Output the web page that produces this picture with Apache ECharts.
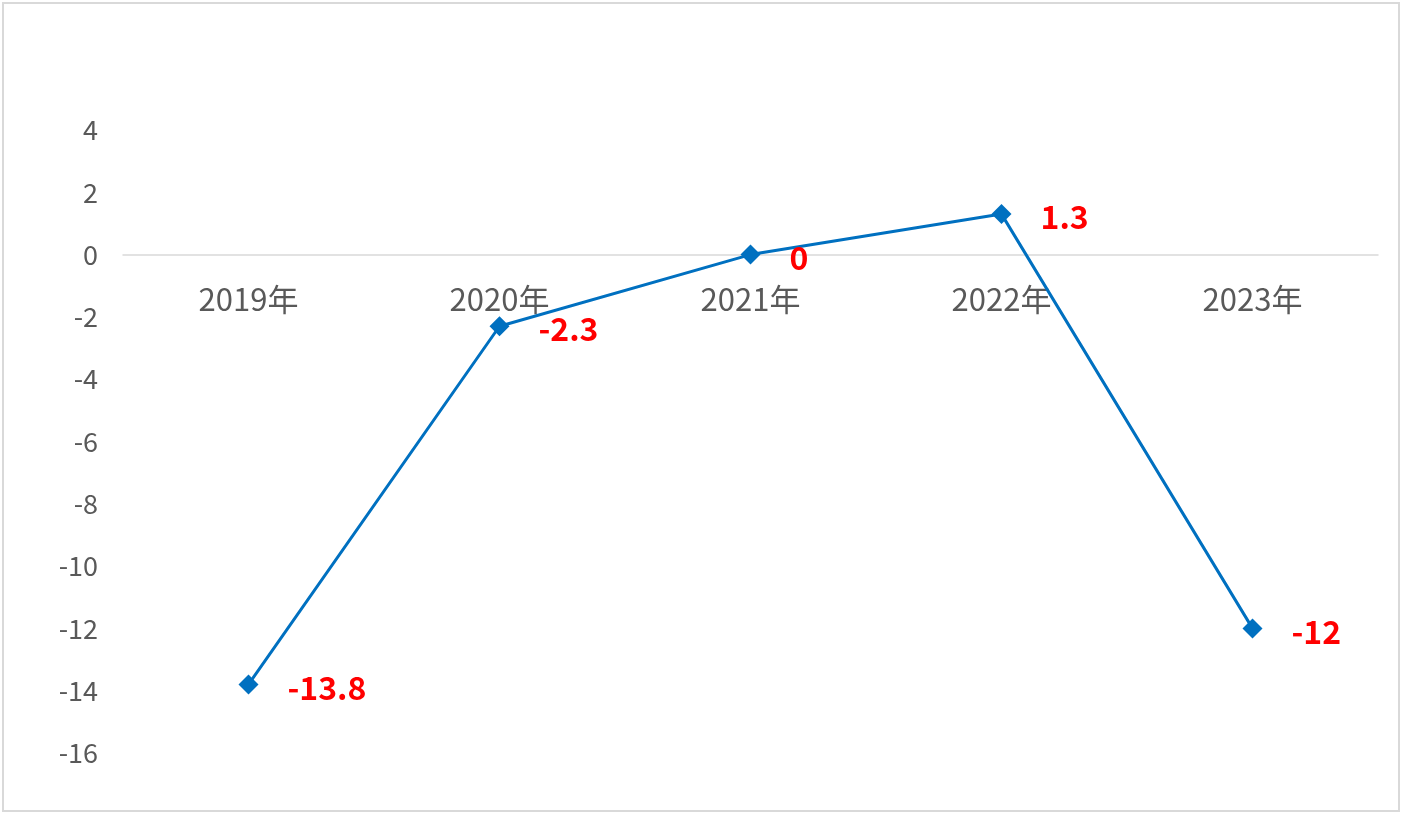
<!DOCTYPE html>
<html>
<head>
<meta charset="utf-8">
<script src="https://cdn.jsdelivr.net/npm/echarts@6/dist/echarts.min.js"></script>
<style>
html,body{margin:0;padding:0;background:#fff;}
#main{width:1404px;height:816px;}
</style>
</head>
<body>
<div id="main"></div>
<script>
var years = ['2019年', '2020年', '2021年', '2022年', '2023年'];
var values = [-13.8, -2.3, 0, 1.3, -12];
var yMin = -16, yMax = 4, yStep = 2;

var gridTop = 130, gridBottom = 63, chartH = 816;
// x axis sits on the zero line, so push it up from the bottom
var plotH = chartH - gridTop - gridBottom;
var zeroOffset = plotH * (0 - yMin) / (yMax - yMin);

var chart = echarts.init(document.getElementById('main'));
var option = {
    backgroundColor: '#fff',
    animation: false,
    graphic: [{
        type: 'rect',
        shape: {x: 3, y: 3, width: 1396, height: 808},
        style: {fill: 'none', stroke: '#d9d9d9', lineWidth: 2}
    }],
    grid: {left: 123, right: 26, top: gridTop, bottom: gridBottom},
    xAxis: {
        type: 'category',
        data: years,
        boundaryGap: true,
        offset: -zeroOffset,
        axisLine: {onZero: false, lineStyle: {color: '#d9d9d9', width: 1.5}},
        axisTick: {show: false},
        axisLabel: {
            color: '#595959',
            fontSize: 31,
            fontFamily: 'Noto Sans CJK SC',
            margin: 29
        }
    },
    yAxis: {
        type: 'value',
        min: yMin,
        max: yMax,
        interval: yStep,
        axisLine: {show: false},
        axisTick: {show: false},
        splitLine: {show: false},
        axisLabel: {
            color: '#595959',
            fontSize: 27,
            fontFamily: 'Noto Sans CJK SC',
            margin: 25
        }
    },
    series: [{
        type: 'line',
        data: values,
        symbol: 'diamond',
        symbolSize: 20,
        lineStyle: {color: '#0070c0', width: 3},
        itemStyle: {color: '#0070c0'},
        label: {
            show: true,
            position: 'right',
            distance: 29,
            offset: [0, 3],
            color: '#ff0000',
            fontSize: 32,
            fontWeight: 'bold',
            fontFamily: 'Noto Sans CJK SC'
        }
    }]
};
chart.setOption(option);
</script>
</body>
</html>
